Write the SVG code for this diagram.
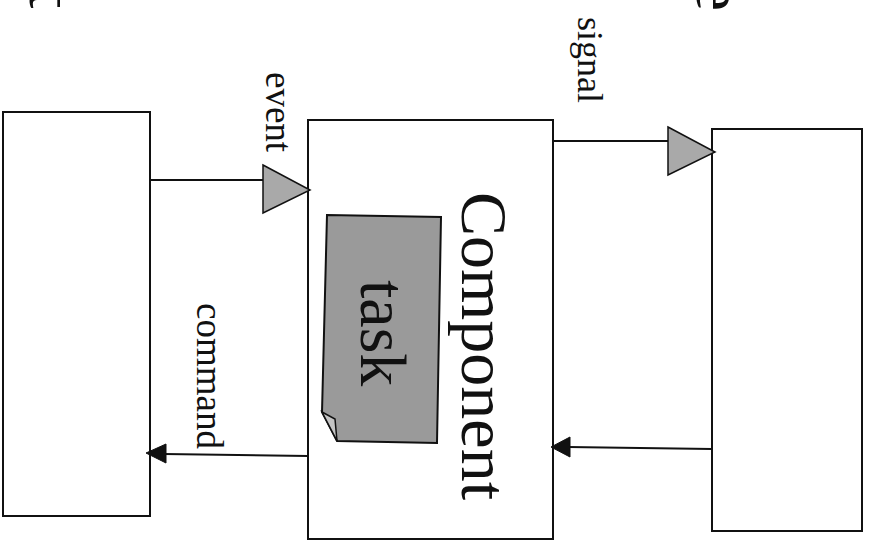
<svg xmlns="http://www.w3.org/2000/svg" width="872" height="546" viewBox="0 0 872 546">
<style>
.box{fill:#ffffff;stroke:#111;stroke-width:2}
.line{stroke:#111;stroke-width:2;fill:none}
.tri{fill:#a9a9a9;stroke:#111;stroke-width:1.5}
.head{fill:#111;stroke:#111;stroke-width:1}
.lbl{font-family:"Liberation Serif","Times New Roman",serif;fill:#111}
</style>
<rect width="872" height="546" fill="#ffffff"/>
<text class="lbl" font-size="66" transform="translate(30,-10) rotate(90)">t</text>
<text class="lbl" font-size="68" transform="translate(697,-19) rotate(90)">e</text>
<g id="left-box">
<rect class="box" x="3" y="112" width="147" height="404"/>
</g>
<g id="component">
<rect class="box" x="308" y="120" width="245" height="419"/>
<text class="lbl" font-size="66" transform="translate(462,192) rotate(90)">Component</text>
</g>
<g id="task">
<polygon points="327,215 441,217 437,443 337,441 322,412" fill="#9a9a9a" stroke="#111" stroke-width="2"/>
<polygon points="322,412 335,419 337,441" fill="#c4c4c4" stroke="#111" stroke-width="1.5"/>
<text class="lbl" font-size="66" transform="translate(361,280) rotate(90)">task</text>
</g>
<g id="right-box">
<rect class="box" x="712" y="129" width="150" height="402"/>
</g>
<g id="connectors">
<line class="line" x1="150" y1="180" x2="263" y2="180"/>
<polygon class="tri" points="263,165 310,190 263,213"/>
<text class="lbl" font-size="37" transform="translate(266,72) rotate(90)">event</text>
<line class="line" x1="553" y1="141" x2="668" y2="141"/>
<polygon class="tri" points="668,127 715,152 668,175"/>
<text class="lbl" font-size="36" transform="translate(578,17) rotate(90)">signal</text>
<line class="line" x1="712" y1="449" x2="568" y2="447"/>
<polygon class="head" points="551,447 570,437 570,457"/>
<line class="line" x1="308" y1="456" x2="164" y2="454"/>
<polygon class="head" points="146,453 166,444 166,463"/>
<text class="lbl" font-size="37" transform="translate(197,303) rotate(90)">command</text>
</g>
</svg>
